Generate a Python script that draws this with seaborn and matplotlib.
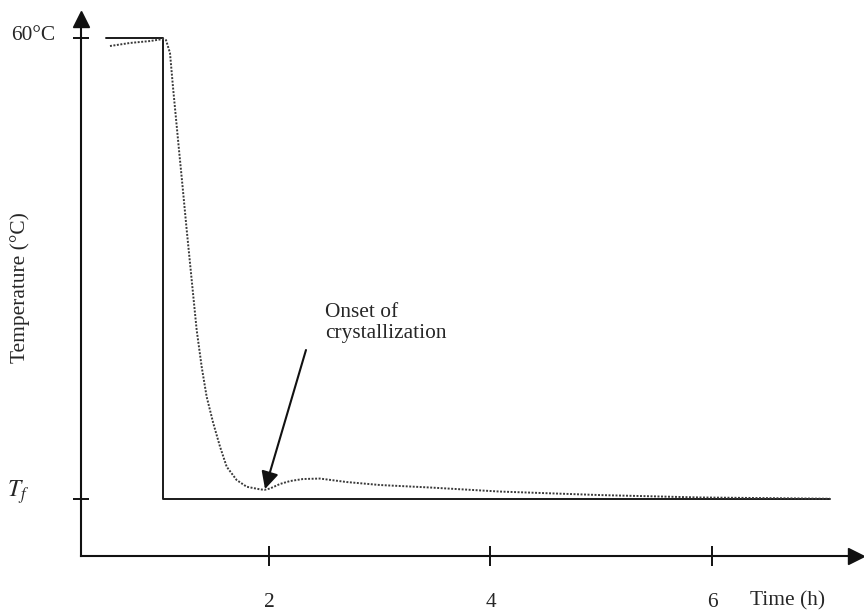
import numpy as np
import pandas as pd
import matplotlib
matplotlib.use("Agg")
import matplotlib.pyplot as plt
import seaborn as sns

# ---- data (time in h, temperature in arbitrary units; Tf = 10, 60 = 60 degC) ----
program_t = [0.53, 1.043, 1.043, 7.07]
program_T = [60.0, 60.0, 10.0, 10.0]

product_t = [0.564, 0.745, 0.926, 1.043, 1.070, 1.106, 1.133, 1.190, 1.214, 1.257,
             1.302, 1.347, 1.392, 1.437, 1.497, 1.558, 1.618, 1.708, 1.799, 1.919,
             1.960, 2.009, 2.099, 2.190, 2.307, 2.460, 2.704, 3.002, 3.454, 4.086,
             4.989, 5.892, 7.065]
product_T = [59.13, 59.46, 59.67, 59.89, 59.78, 58.37, 54.69, 47.53, 44.60, 39.18,
             33.75, 28.33, 24.35, 21.10, 18.21, 15.67, 13.50, 12.06, 11.33, 11.05,
             11.00, 11.14, 11.63, 11.95, 12.17, 12.22, 11.84, 11.52, 11.25, 10.81,
             10.43, 10.17, 10.03]

x_ticks = [2, 4, 6]
x_tick_labels = ["2", "4", "6"]
T_high, T_low = 60, 10
y_tick_labels = ["60°C", "$T_f$"]

sns.set_theme(style="white")
plt.rcParams["font.family"] = ["Liberation Serif", "DejaVu Serif"]
plt.rcParams["mathtext.fontset"] = "stix"

fig = plt.figure(figsize=(8.64, 6.13), dpi=100)
ax = fig.add_axes([0, 0, 1, 1])
ax.set_xlim(-0.429, 7.373)
ax.set_ylim(-2.36, 64.12)

prog = pd.DataFrame({"t": program_t, "T": program_T})
prod = pd.DataFrame({"t": product_t, "T": product_T})
sns.lineplot(data=prog, x="t", y="T", sort=False, estimator=None, ax=ax,
             color="#1a1a1a", lw=1.4)
sns.lineplot(data=prod, x="t", y="T", sort=False, estimator=None, ax=ax,
             color="#3a3a3a", lw=1.4, linestyle=(0, (1, 0.8)))

# axes as arrows
x0, y0 = 0.302, 3.82
for s in ["top", "right"]:
    ax.spines[s].set_visible(False)
ax.spines["left"].set_position(("data", x0))
ax.spines["bottom"].set_position(("data", y0))
ax.spines["left"].set_bounds(y0, 62.0)
ax.spines["bottom"].set_bounds(x0, 7.30)
for s in ["left", "bottom"]:
    ax.spines[s].set_color("#111111")
    ax.spines[s].set_linewidth(1.5)
ax.plot([x0], [62.06], marker="^", markersize=11, color="#111111", clip_on=False)
ax.plot([7.30], [y0], marker=">", markersize=11, color="#111111", clip_on=False)

ax.set_xticks(x_ticks)
ax.set_xticklabels(x_tick_labels, fontsize=15.4)
ax.tick_params(axis="x", direction="inout", length=15, width=1.4, color="#111111",
               pad=19, bottom=True)
ax.set_yticks([T_high, T_low])
ax.set_yticklabels(["", ""])
ax.tick_params(axis="y", direction="inout", length=12, width=1.4, color="#111111",
               left=True)
ax.set_xlabel("")
ax.set_ylabel("")

ax.text(0.068, 60.3, y_tick_labels[0], fontsize=15.4, ha="right", va="center")
ax.text(-0.17, 10.7, y_tick_labels[1], fontsize=17, ha="right", va="center")
ax.text(-0.25, 32.9, "Temperature (°C)", fontsize=15.4, rotation=90,
        ha="center", va="center")
ax.text(6.34, -1.0, "Time (h)", fontsize=15.4, ha="left", va="center")

ax.annotate("", xy=(1.964, 11.08), xytext=(2.334, 26.16),
            arrowprops=dict(arrowstyle="-|>", mutation_scale=26, lw=1.5,
                            color="#111111", shrinkA=0, shrinkB=0))
ax.text(2.506, 31.3, "Onset of\ncrystallization", fontsize=15.4, ha="left",
        va="top", linespacing=1.15)

fig.savefig("out.png", dpi=100)
